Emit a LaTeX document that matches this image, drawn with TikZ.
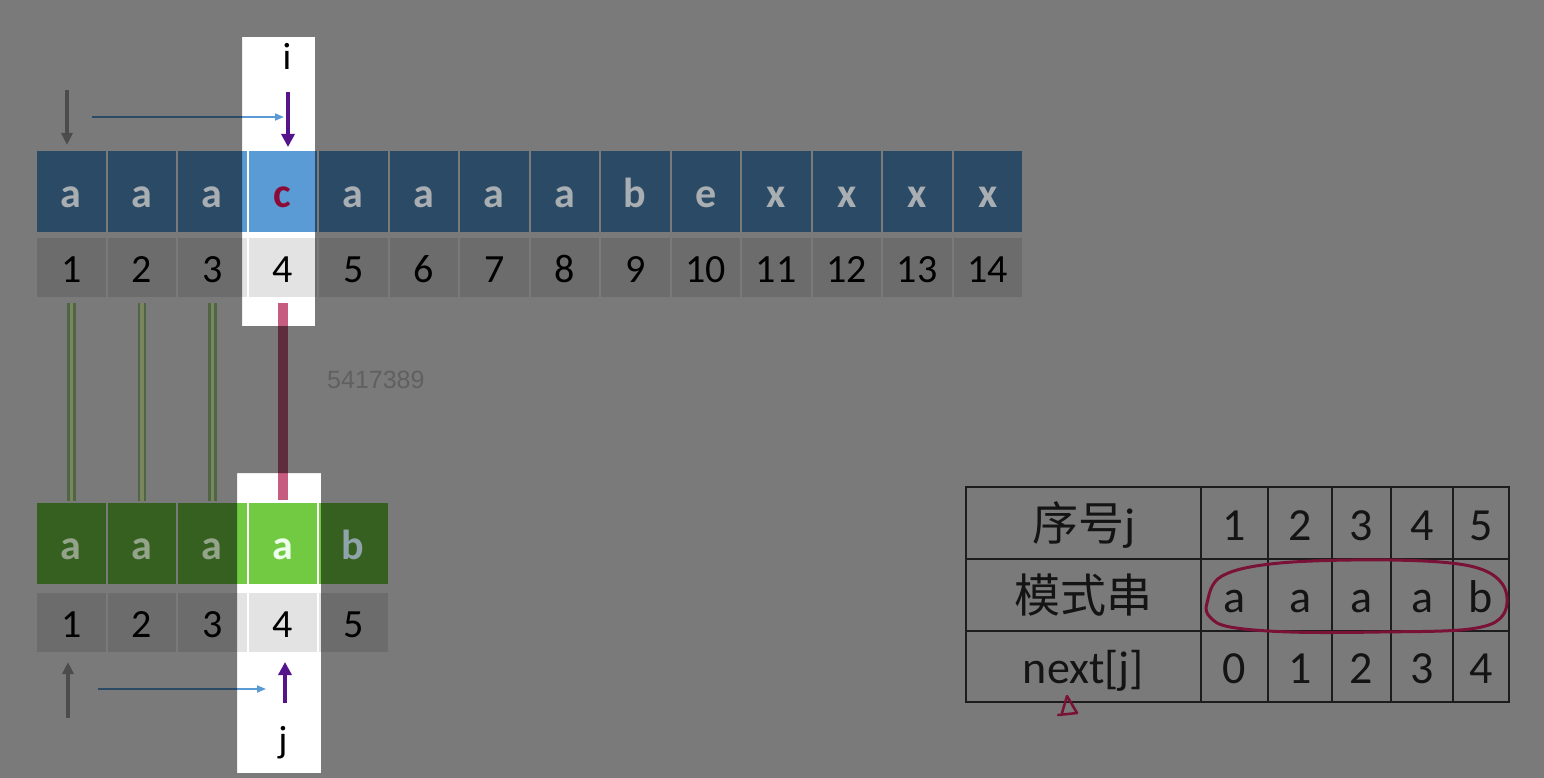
\documentclass[tikz,border=0pt]{standalone}
\usepackage{fontspec}
\setmainfont{Carlito}
\newfontfamily\cjk{Noto Sans CJK SC}
\newfontfamily\arialf{Liberation Sans}
\usetikzlibrary{arrows.meta}
\definecolor{cblue}{HTML}{5B9BD5}
\definecolor{cgreen}{HTML}{72CA42}
\definecolor{cnum}{HTML}{E3E3E3}
\definecolor{cletter}{HTML}{A8AEB2}
\definecolor{cgletter}{HTML}{94A48A}
\definecolor{cbletter}{HTML}{8FA3AA}
\definecolor{cred}{HTML}{8B0A36}
\definecolor{cpurple}{HTML}{55148C}
\definecolor{cgrayarrow}{HTML}{4C4C4C}
\definecolor{clink}{HTML}{C65C80}
\definecolor{gedge}{HTML}{4F6645}
\definecolor{gmid}{HTML}{7A8560}
\definecolor{cmark}{HTML}{7A1238}
\definecolor{cwater}{HTML}{606060}
\definecolor{cline}{HTML}{1C1C1C}
\begin{document}
\begin{tikzpicture}[x=1pt,y=-1pt,
  cell/.style={minimum width=70.5pt, inner sep=0pt, outer sep=0pt, draw=white, line width=2pt},
  bluecell/.style={cell, fill=cblue, minimum height=83pt},
  greencell/.style={cell, fill=cgreen, minimum height=83pt},
  numcell/.style={cell, fill=cnum, minimum height=61pt, font=\fontsize{40}{48}\selectfont, text=black, text height=30pt, text depth=0pt},
  lettxt/.style={font=\bfseries\fontsize{42}{50}\selectfont, text=cletter, inner sep=0pt, anchor=base},
  ptr/.style={font=\fontsize{38}{46}\selectfont, text=black, inner sep=0pt, anchor=base},
  grayarrow/.style={draw=cgrayarrow, line width=3.2pt, -{Triangle[length=12pt,width=11pt]}},
  purplearrow/.style={draw=cpurple, line width=4.5pt, -{Triangle[length=13pt,width=13pt]}},
  bluearrow/.style={draw=cblue, line width=1.8pt, -{Triangle[length=9pt,width=7pt]}},
  greenlink/.style={draw=gedge, double=gmid, line width=2.5pt, double distance=3.5pt},
  redlink/.style={draw=clink, line width=10pt},
  tcell/.style={draw=cline, line width=2pt, inner sep=0pt, outer sep=0pt, minimum height=72pt, font=\fontsize{46}{54}\selectfont, text=black!92, text height=34pt, text depth=0pt},
]
\useasboundingbox (0,0) rectangle (1544,778);
\fill[white] (0,0) rectangle (1544,778);

% main string cells
\foreach \k in {1,...,14} {
  \node[bluecell] (t\k) at ({36+70.5*(\k-0.5)},191.5) {};
  \node[numcell] (n\k) at ({36+70.5*(\k-0.5)},267.5) {\k};
}
% pattern cells
\foreach \k in {1,...,5} {
  \node[greencell] (p\k) at ({36+70.5*(\k-0.5)},543.5) {};
  \node[numcell] (q\k) at ({36+70.5*(\k-0.5)},622.5) {\k};
}

% links
\draw[redlink, shorten <=5pt, shorten >=2pt] (n4) -- (p4);

% pointer labels and arrows
\node[ptr] (ilab) at (287,70) {i};
\node[ptr] (jlab) at (283,752) {j};
\coordinate (itail) at (288,92);
\coordinate (itip) at (288,147);
\coordinate (jtail) at (285,703);
\coordinate (jtip) at (285,662);
\coordinate (btail1) at (92,117);
\coordinate (btip1) at (284,117);
\coordinate (btail2) at (98,689);
\coordinate (btip2) at (266,689);
\draw[bluearrow] (btail1) -- (btip1);
\draw[bluearrow] (btail2) -- (btip2);
\draw[purplearrow] (itail) -- (itip);
\draw[purplearrow] (jtail) -- (jtip);

% dimming overlay with the two highlight windows
\fill[black, opacity=0.52, even odd rule] (0,0) rectangle (1544,778) (242,37) rectangle (315,326) (237,473) rectangle (321,773);

% green match links
\foreach \k in {1,2,3} {
  \draw[greenlink, shorten <=5pt, shorten >=1pt] (n\k) -- (p\k);
}

% gray start arrows
\coordinate (gtail1) at (67,90);
\coordinate (gtip1) at (67,145);
\coordinate (gtail2) at (68,718);
\coordinate (gtip2) at (68,662);
\draw[grayarrow] (gtail1) -- (gtip1);
\draw[grayarrow] (gtail2) -- (gtip2);

% letters of the main string
\foreach \k/\l in {1/a,2/a,3/a,5/a,6/a,7/a,8/a,9/b,10/e,11/x,12/x,13/x,14/x} {
  \node[lettxt] (tl\k) at ([yshift=-16pt]t\k.center) {\l};
}
\node[lettxt, text=cred] (tl4) at ([yshift=-16pt]t4.center) {c};
% letters of the pattern
\foreach \k/\l in {1/a,2/a,3/a} {
  \node[lettxt, text=cgletter] (pl\k) at ([yshift=-16pt]p\k.center) {\l};
}
\node[lettxt, text=cbletter] (pl5) at ([yshift=-16pt]p5.center) {b};
\node[lettxt, text=white!92!green] (pl4) at ([yshift=-16pt]p4.center) {a};

% watermark
\node[font=\arialf\fontsize{25}{30}\selectfont, text=cwater, anchor=west, inner sep=0pt] (wm) at (327,380) {5417389};

% next table
\node[tcell, minimum width=235pt] (h0) at (1083.5,523) {{\cjk 序号}j};
\node[tcell, minimum width=235pt] (m0) at (1083.5,595) {{\cjk 模式串}};
\node[tcell, minimum width=235pt, minimum height=71pt] (x0) at (1083.5,666.5) {next[j]};
\foreach \k/\xa/\w/\m/\v in {1/1234.5/67/a/0, 2/1300/64/a/1, 3/1361.5/59/a/2, 4/1422/62/a/3, 5/1481/56/b/4} {
  \node[tcell, minimum width=\w pt] (h\k) at (\xa,523) {\k};
  \node[tcell, minimum width=\w pt] (m\k) at (\xa,595) {\m};
  \node[tcell, minimum width=\w pt, minimum height=71pt] (x\k) at (\xa,666.5) {\v};
}

% hand-drawn marks
\draw[cmark, line width=3pt] plot[smooth cycle, tension=0.6] coordinates {
  (1207,603) (1222,576) (1280,563) (1390,560) (1470,566) (1503,585) (1503,615) (1470,629) (1380,632) (1290,632) (1230,627) (1210,617)};
\draw[cmark, line width=2.5pt, line join=round, line cap=round] (1062,713) -- (1067,696) -- (1077,713) -- (1058,715);
\end{tikzpicture}
\end{document}
